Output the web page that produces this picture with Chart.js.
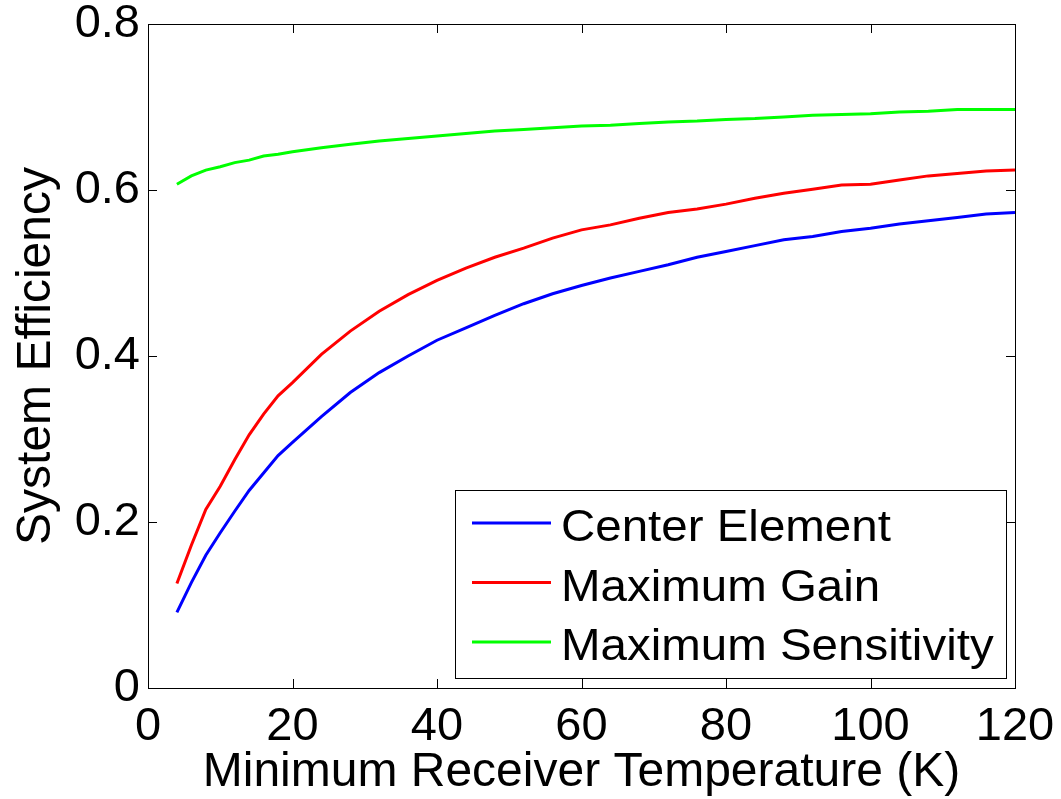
<!DOCTYPE html>
<html>
<head>
<meta charset="utf-8">
<script src="https://cdn.jsdelivr.net/npm/chart.js@4/dist/chart.umd.min.js"></script>
<style>
html,body{margin:0;padding:0;background:#fff;}
#wrap{width:1061px;height:799px;position:relative;}
</style>
</head>
<body>
<div id="wrap"><canvas id="c" width="1061" height="799"></canvas></div>
<script>
const temperatures = [4,6,8,10,12,14,16,18,20,24,28,32,36,40,44,48,52,56,60,64,68,72,76,80,84,88,92,96,100,104,108,112,116,120];
const centerElement = [0.091,0.127,0.160,0.187,0.213,0.238,0.259,0.280,0.296,0.327,0.356,0.380,0.400,0.419,0.434,0.449,0.463,0.475,0.485,0.494,0.502,0.510,0.519,0.526,0.533,0.540,0.544,0.550,0.554,0.559,0.563,0.567,0.571,0.573];
const maximumGain = [0.126,0.172,0.215,0.243,0.275,0.305,0.330,0.352,0.368,0.402,0.430,0.454,0.474,0.491,0.506,0.519,0.530,0.542,0.552,0.558,0.566,0.573,0.577,0.583,0.590,0.596,0.601,0.606,0.607,0.612,0.617,0.620,0.623,0.624];
const maximumSensitivity = [0.607,0.617,0.624,0.628,0.633,0.636,0.641,0.643,0.646,0.651,0.655,0.659,0.662,0.665,0.668,0.671,0.673,0.675,0.677,0.678,0.680,0.682,0.683,0.685,0.686,0.688,0.690,0.691,0.692,0.694,0.695,0.697,0.697,0.697];
const seriesLabels = ["Center Element","Maximum Gain","Maximum Sensitivity"];
const xTicks = [0,20,40,60,80,100,120];
const yTicks = [0,0.2,0.4,0.6,0.8];
const xTitle = "Minimum Receiver Temperature (K)";
const yTitle = "System Efficiency";

const FONT = "'Liberation Sans', Arial, sans-serif";
const colors = ["#0000ff","#ff0000","#00ff00"];
const seriesValues = [centerElement, maximumGain, maximumSensitivity];

const datasets = seriesValues.map((vals, i) => ({
  label: seriesLabels[i],
  data: temperatures.map((t, j) => ({x: t, y: vals[j]})),
  borderColor: colors[i],
  backgroundColor: colors[i],
  borderWidth: 3,
  pointRadius: 0,
  fill: false,
  tension: 0
}));

const framePlugin = {
  id: 'frame',
  afterDatasetsDraw(chart) {
    const ctx = chart.ctx;
    const a = chart.chartArea;
    const xs = chart.scales.x, ys = chart.scales.y;
    const tl = 9;
    ctx.save();
    ctx.strokeStyle = '#000';
    ctx.lineWidth = 1;
    ctx.beginPath();
    xTicks.forEach(v => {
      const px = Math.round(xs.getPixelForValue(v)) + 0.5;
      ctx.moveTo(px, a.bottom); ctx.lineTo(px, a.bottom - tl);
      ctx.moveTo(px, a.top); ctx.lineTo(px, a.top + tl);
    });
    yTicks.forEach(v => {
      const py = Math.round(ys.getPixelForValue(v)) + 0.5;
      ctx.moveTo(a.left, py); ctx.lineTo(a.left + tl, py);
      ctx.moveTo(a.right, py); ctx.lineTo(a.right - tl, py);
    });
    ctx.stroke();
    ctx.strokeRect(Math.round(a.left)+0.5, Math.round(a.top)+0.5, Math.round(a.right-a.left), Math.round(a.bottom-a.top));

    // legend
    const fs = 45, stretch = 1.055;
    ctx.font = fs + 'px ' + FONT;
    const ds = chart.data.datasets;
    let maxW = 0;
    ds.forEach(d => { maxW = Math.max(maxW, ctx.measureText(d.label).width * stretch); });
    const lineStart = 17, lineLen = 79, textOff = 106, rowH = 59.5, padR = 12;
    const w = textOff + maxW + padR;
    const h = 188;
    const right = a.right - 9, bottom = a.bottom - 10;
    const left = Math.round(right - w), top = Math.round(bottom - h);
    ctx.fillStyle = '#fff';
    ctx.fillRect(left, top, right - left, bottom - top);
    ctx.strokeRect(left + 0.5, top + 0.5, Math.round(right - left), Math.round(bottom - top));
    ds.forEach((d, i) => {
      const ry = top + 33 + i * rowH;
      ctx.strokeStyle = d.borderColor;
      ctx.lineWidth = 3;
      ctx.beginPath();
      ctx.moveTo(left + lineStart, ry); ctx.lineTo(left + lineStart + lineLen, ry);
      ctx.stroke();
      ctx.save();
      ctx.translate(left + textOff, ry + 18);
      ctx.scale(stretch, 1);
      ctx.fillStyle = '#000';
      ctx.textBaseline = 'alphabetic';
      ctx.textAlign = 'left';
      ctx.fillText(d.label, 0, 0);
      ctx.restore();
    });
    ctx.restore();
  }
};

new Chart(document.getElementById('c'), {
  type: 'line',
  data: { datasets },
  plugins: [framePlugin],
  options: {
    responsive: false,
    animation: false,
    devicePixelRatio: 1,
    layout: { padding: { top: 24, right: 46, left: 0, bottom: 0 } },
    plugins: { legend: { display: false }, tooltip: { enabled: false } },
    scales: {
      x: {
        type: 'linear',
        min: 0, max: 120,
        afterBuildTicks: s => { s.ticks = xTicks.map(v => ({value: v})); },
        afterFit: s => { s.height = 111; s.paddingLeft = 0; s.paddingRight = 0; },
        grid: { display: false },
        border: { display: false },
        ticks: { font: { family: FONT, size: 47, lineHeight: 1.2 }, color: '#000', padding: 3, maxRotation: 0, autoSkip: false },
        title: { display: true, text: xTitle, font: { family: FONT, size: 48, lineHeight: 1.2 }, color: '#000', padding: { top: 0, bottom: -3 } }
      },
      y: {
        type: 'linear',
        min: 0, max: 0.8,
        afterBuildTicks: s => { s.ticks = yTicks.map(v => ({value: v})); },
        afterFit: s => { s.width = 148; s.paddingTop = 0; s.paddingBottom = 0; },
        grid: { display: false },
        border: { display: false },
        ticks: { font: { family: FONT, size: 47, lineHeight: 1.0 }, color: '#000', padding: 0,
          callback: v => (v === 0 ? '0' : String(v)) },
        title: { display: true, text: yTitle, font: { family: FONT, size: 48, lineHeight: 1.2 }, color: '#000', padding: { top: 8, bottom: 0 } }
      }
    }
  }
});
</script>
</body>
</html>
